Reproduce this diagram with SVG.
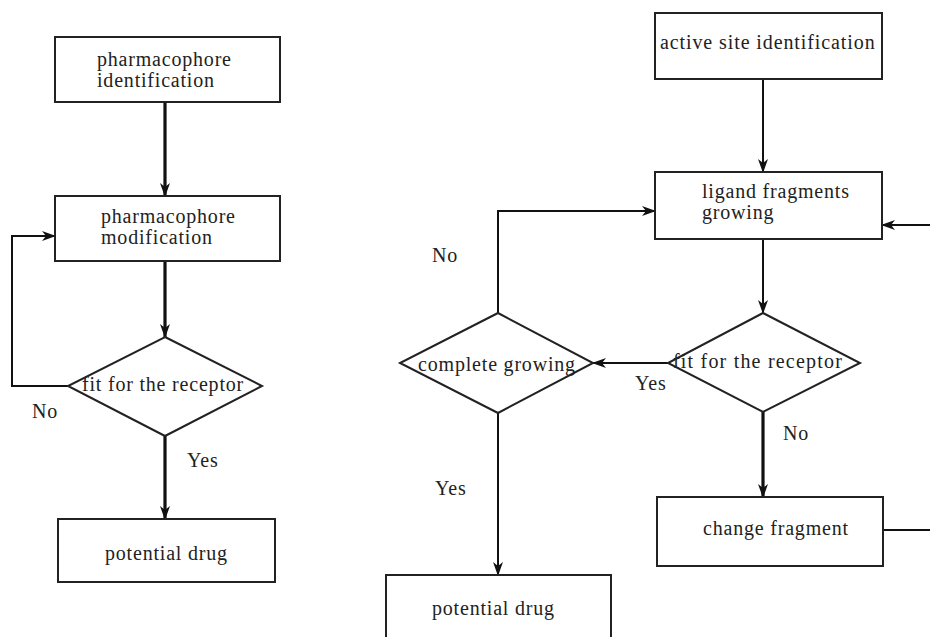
<svg xmlns="http://www.w3.org/2000/svg" width="930" height="637" viewBox="0 0 930 637">
<style>
.box{fill:#fff;stroke:#222;stroke-width:2}
.t{font-family:"Liberation Serif","Times New Roman",serif;font-size:20px;letter-spacing:0.8px;fill:#222}
.c{fill:none;stroke:#111;stroke-width:2}
.k{stroke-width:3.2}
</style>
<defs>
<marker id="ah" viewBox="0 0 14 10" refX="13" refY="5" markerWidth="14" markerHeight="10" markerUnits="userSpaceOnUse" orient="auto">
<path d="M0,0 L14,5 L0,10 L4,5 z" fill="#111"/>
</marker>
</defs>
<rect width="930" height="637" fill="#fff"/>
<g id="connectors">
<line class="c k" x1="165" y1="102" x2="165" y2="196" marker-end="url(#ah)"/>
<line class="c k" x1="165" y1="261" x2="165" y2="337" marker-end="url(#ah)"/>
<path class="c" d="M68,386 H12 V236 H55" marker-end="url(#ah)"/>
<line class="c k" x1="165" y1="436" x2="165" y2="519" marker-end="url(#ah)"/>
<line class="c" x1="763" y1="79" x2="763" y2="172" marker-end="url(#ah)"/>
<line class="c" x1="763" y1="239" x2="763" y2="313" marker-end="url(#ah)"/>
<line class="c" x1="668" y1="363" x2="593" y2="363" marker-end="url(#ah)"/>
<line class="c k" x1="763" y1="412" x2="763" y2="497" marker-end="url(#ah)"/>
<path class="c" d="M498,313 V211 H655" marker-end="url(#ah)"/>
<line class="c" x1="498" y1="413" x2="498" y2="575" marker-end="url(#ah)"/>
<path class="c" d="M883,530 H940 V225 H882" marker-end="url(#ah)"/>
</g>
<g id="labels">
<text class="t" x="32" y="418">No</text>
<text class="t" x="187" y="467">Yes</text>
<text class="t" x="432" y="262">No</text>
<text class="t" x="635" y="390">Yes</text>
<text class="t" x="783" y="440">No</text>
<text class="t" x="435" y="495">Yes</text>
</g>
<g id="pharm-id">
<rect class="box" x="55" y="37" width="225" height="65"/>
<text class="t" x="97" y="66">pharmacophore</text>
<text class="t" x="97" y="87">identification</text>
</g>
<g id="pharm-mod">
<rect class="box" x="55" y="196" width="225" height="65"/>
<text class="t" x="101" y="223">pharmacophore</text>
<text class="t" x="101" y="244">modification</text>
</g>
<g id="fit-left">
<polygon class="box" points="165,337 262,386 165,436 68,386"/>
<text class="t" x="163" y="391" text-anchor="middle">fit for the receptor</text>
</g>
<g id="drug-left">
<rect class="box" x="58" y="519" width="217" height="63"/>
<text class="t" x="105" y="560">potential drug</text>
</g>
<g id="active-site">
<rect class="box" x="655" y="13" width="227" height="66"/>
<text class="t" x="660" y="49" style="letter-spacing:0.9px">active site identification</text>
</g>
<g id="ligand">
<rect class="box" x="655" y="172" width="227" height="67"/>
<text class="t" x="702" y="198">ligand fragments</text>
<text class="t" x="702" y="219">growing</text>
</g>
<g id="fit-right">
<polygon class="box" points="763,313 860,363 763,412 668,363"/>
<text class="t" x="758" y="368" text-anchor="middle" style="letter-spacing:1.2px">fit for the receptor</text>
</g>
<g id="complete">
<polygon class="box" points="498,313 593,363 498,413 400,363"/>
<text class="t" x="497" y="371" text-anchor="middle">complete growing</text>
</g>
<g id="change">
<rect class="box" x="657" y="497" width="226" height="69"/>
<text class="t" x="703" y="535">change fragment</text>
</g>
<g id="drug-right">
<rect class="box" x="386" y="575" width="225" height="80"/>
<text class="t" x="432" y="615">potential drug</text>
</g>
</svg>
